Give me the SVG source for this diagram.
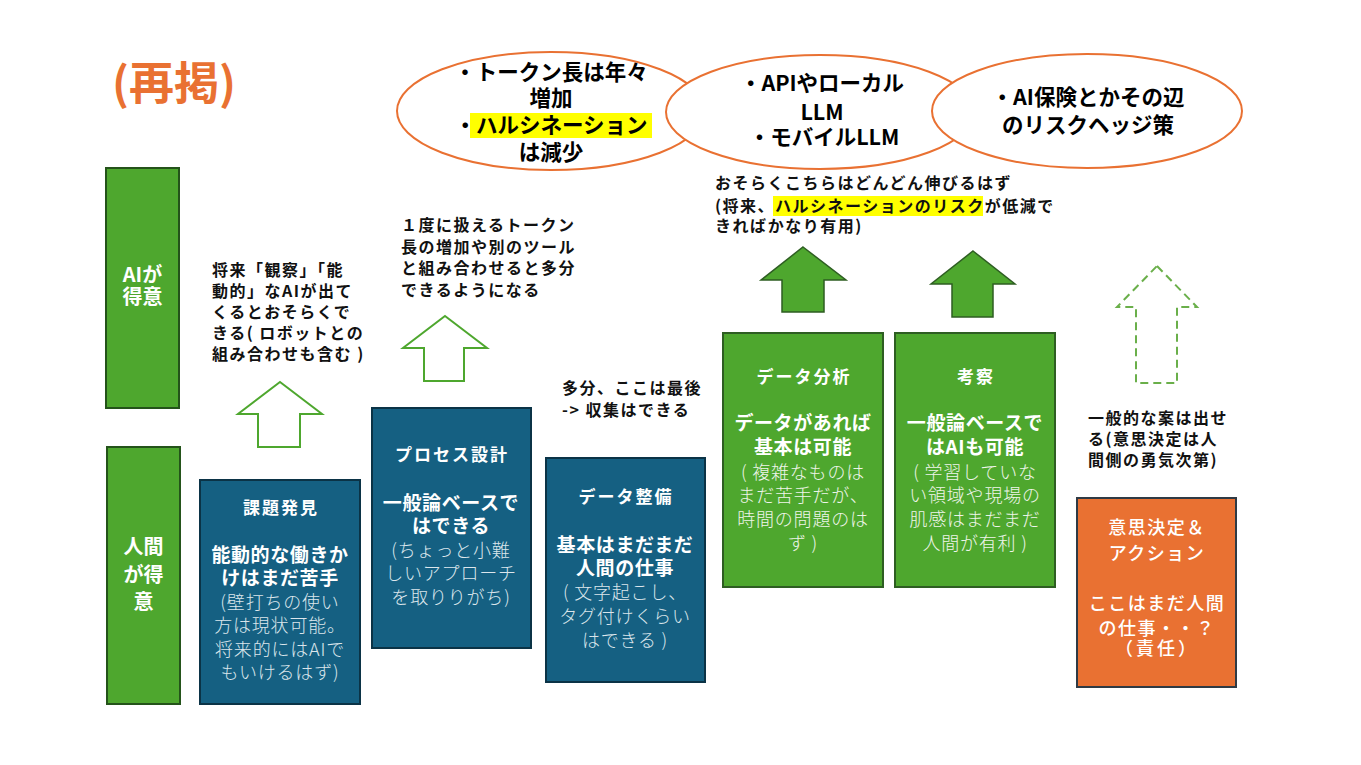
<svg xmlns="http://www.w3.org/2000/svg" width="1361" height="765" viewBox="0 0 1361 765">
<style>
text{font-family:"Noto Sans CJK JP","Noto Sans",sans-serif;}
.title{font-size:45px;font-weight:700;fill:#E97132;}
.ell{fill:#FFFFFF;stroke:#E97132;stroke-width:2;}
.et{font-size:21.5px;font-weight:700;fill:#000;text-anchor:middle;}
.ann{font-size:16px;font-weight:700;fill:#111;letter-spacing:1.5px;}
.lbl{fill:#4EA72E;stroke:#24531A;stroke-width:2;}
.lt{font-size:20px;font-weight:700;fill:#fff;text-anchor:middle;}
.bb{fill:#156082;stroke:#0B3346;stroke-width:2;}
.gb{fill:#4EA72E;stroke:#2E5E22;stroke-width:2;}
.ob{fill:#E97132;stroke:#2F3A44;stroke-width:2;}
.bt{fill:#fff;text-anchor:middle;}
.h{font-size:17px;font-weight:700;fill:#fff;letter-spacing:2px;}
.b{font-size:19px;font-weight:700;fill:#fff;letter-spacing:0.6px;}
.l{font-size:18px;font-weight:300;fill:#DCE6EC;letter-spacing:0.8px;}
.lg{font-size:18px;font-weight:300;fill:#EEF5EA;letter-spacing:0.8px;}
.o{font-size:18px;font-weight:500;fill:#fff;letter-spacing:1.5px;}
.hl{fill:#FFFF00;}
.aout{fill:#FFFFFF;stroke:#4EA72E;stroke-width:2;}
.afill{fill:#4EA72E;stroke:#2E5E22;stroke-width:1.5;}
.adash{fill:none;stroke:#6AAF4A;stroke-width:2;stroke-dasharray:8 5;}
</style>

<text class="title" x="112" y="100">(再掲)</text>

<g id="ellipse-token">
  <ellipse class="ell" cx="551" cy="111" rx="154" ry="59"/>
  <rect class="hl" x="470" y="113" width="182" height="25"/>
  <text class="et"><tspan x="551" y="80">・トークン長は年々</tspan><tspan x="551" y="106">増加</tspan><tspan x="551" y="133">・ハルシネーション</tspan><tspan x="551" y="160">は減少</tspan></text>
</g>
<g id="ellipse-llm">
  <ellipse class="ell" cx="820" cy="112" rx="154" ry="57"/>
  <text class="et"><tspan x="822" y="91">・APIやローカル</tspan><tspan x="822" y="120">LLM</tspan><tspan x="824" y="145">・モバイルLLM</tspan></text>
</g>
<g id="ellipse-insurance">
  <ellipse class="ell" cx="1087" cy="111" rx="155" ry="57"/>
  <text class="et"><tspan x="1088" y="105">・AI保険とかその辺</tspan><tspan x="1088" y="133">のリスクヘッジ策</tspan></text>
</g>

<g id="note-observe">
  <text class="ann"><tspan x="212" y="276">将来「観察」「能</tspan><tspan x="212" y="297">動的」なAIが出て</tspan><tspan x="212" y="318">くるとおそらくで</tspan><tspan x="212" y="339">きる( ロボットとの</tspan><tspan x="212" y="360">組み合わせも含む )</tspan></text>
</g>
<g id="note-token">
  <text class="ann"><tspan x="401" y="231">１度に扱えるトークン</tspan><tspan x="401" y="253">長の増加や別のツール</tspan><tspan x="401" y="274">と組み合わせると多分</tspan><tspan x="401" y="296">できるようになる</tspan></text>
</g>
<g id="note-last">
  <text class="ann"><tspan x="562" y="394">多分、ここは最後</tspan><tspan x="562" y="416">-&gt; 収集はできる</tspan></text>
</g>
<g id="note-grow">
  <rect class="hl" x="773" y="196" width="210" height="20"/>
  <text class="ann"><tspan x="715" y="189">おそらくこちらはどんどん伸びるはず</tspan><tspan x="715" y="212">(将来、ハルシネーションのリスクが低減で</tspan><tspan x="715" y="232">きればかなり有用)</tspan></text>
</g>
<g id="note-decision">
  <text class="ann"><tspan x="1088" y="424">一般的な案は出せ</tspan><tspan x="1088" y="445">る(意思決定は人</tspan><tspan x="1088" y="466">間側の勇気次第)</tspan></text>
</g>

<g id="label-ai">
  <rect class="lbl" x="106" y="168" width="73" height="240"/>
  <text class="lt"><tspan x="142.5" y="282">AIが</tspan><tspan x="142.5" y="304">得意</tspan></text>
</g>
<g id="label-human">
  <rect class="lbl" x="107" y="447" width="73" height="257"/>
  <text class="lt"><tspan x="143.5" y="554">人間</tspan><tspan x="143.5" y="582">が得</tspan><tspan x="143.5" y="609">意</tspan></text>
</g>

<g id="connectors">
  <polygon class="aout" points="280,382 322,414 300,414 300,447 258,447 258,414 238,414"/>
  <polygon class="aout" points="445,316 487,348 464,348 464,381 424,381 424,348 403,348"/>
  <polygon class="afill" points="803,247 846,280 824,280 824,312 782,312 782,280 761,280"/>
  <polygon class="afill" points="973,251 1015,284 993,284 993,317 952,317 952,284 931,284"/>
  <polygon class="adash" points="1157,266 1197,307 1177,307 1177,383 1136,383 1136,307 1117,307"/>
</g>

<g id="box-kadai">
  <rect class="bb" x="200" y="480" width="160" height="224"/>
  <text class="bt"><tspan class="h" x="281" y="514">課題発見</tspan><tspan class="b" x="280" y="562">能動的な働きか</tspan><tspan class="b" x="280" y="585">けはまだ苦手</tspan><tspan class="l" x="280" y="609">(壁打ちの使い</tspan><tspan class="l" x="280" y="632">方は現状可能。</tspan><tspan class="l" x="280" y="656">将来的にはAIで</tspan><tspan class="l" x="280" y="679">もいけるはず)</tspan></text>
</g>
<g id="box-process">
  <rect class="bb" x="372" y="408" width="159" height="240"/>
  <text class="bt"><tspan class="h" x="452" y="461">プロセス設計</tspan><tspan class="b" x="451" y="510">一般論ベースで</tspan><tspan class="b" x="451" y="533">はできる</tspan><tspan class="l" x="451" y="557">(ちょっと小難</tspan><tspan class="l" x="451" y="580">しいアプローチ</tspan><tspan class="l" x="451" y="604">を取りりがち)</tspan></text>
</g>
<g id="box-data-prep">
  <rect class="bb" x="546" y="458" width="159" height="224"/>
  <text class="bt"><tspan class="h" x="626" y="503">データ整備</tspan><tspan class="b" x="625" y="552">基本はまだまだ</tspan><tspan class="b" x="625" y="575">人間の仕事</tspan><tspan class="l" x="625" y="599">( 文字起こし、</tspan><tspan class="l" x="625" y="623">タグ付けくらい</tspan><tspan class="l" x="625" y="647">はできる )</tspan></text>
</g>
<g id="box-analysis">
  <rect class="gb" x="723" y="333" width="160" height="254"/>
  <text class="bt"><tspan class="h" x="804" y="383">データ分析</tspan><tspan class="b" x="803" y="430">データがあれば</tspan><tspan class="b" x="803" y="454">基本は可能</tspan><tspan class="lg" x="803" y="479">( 複雑なものは</tspan><tspan class="lg" x="803" y="502">まだ苦手だが、</tspan><tspan class="lg" x="803" y="526">時間の問題のは</tspan><tspan class="lg" x="803" y="550">ず )</tspan></text>
</g>
<g id="box-insight">
  <rect class="gb" x="895" y="333" width="160" height="254"/>
  <text class="bt"><tspan class="h" x="976" y="383">考察</tspan><tspan class="b" x="975" y="430">一般論ベースで</tspan><tspan class="b" x="975" y="454">はAIも可能</tspan><tspan class="lg" x="975" y="479">( 学習していな</tspan><tspan class="lg" x="975" y="502">い領域や現場の</tspan><tspan class="lg" x="975" y="526">肌感はまだまだ</tspan><tspan class="lg" x="975" y="550">人間が有利 )</tspan></text>
</g>
<g id="box-decision">
  <rect class="ob" x="1077" y="498" width="159" height="189"/>
  <text class="bt"><tspan class="o" x="1157" y="534">意思決定＆</tspan><tspan class="o" x="1157" y="560">アクション</tspan><tspan class="o" x="1157" y="610">ここはまだ人間</tspan><tspan class="o" x="1157" y="635">の仕事・・？</tspan><tspan class="o" x="1157" y="655" style="letter-spacing:3px">（責任）</tspan></text>
</g>
</svg>
